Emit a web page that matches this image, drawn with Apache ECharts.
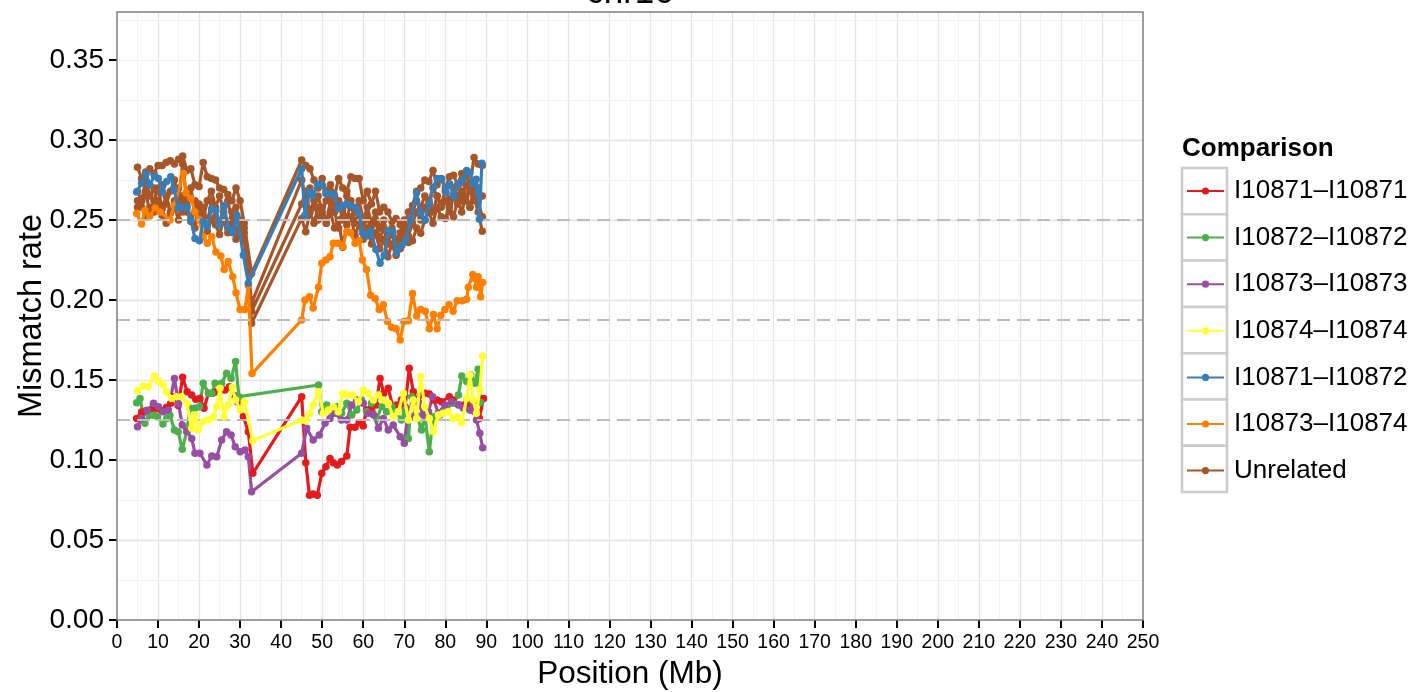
<!DOCTYPE html>
<html><head><meta charset="utf-8">
<script src="https://cdn.jsdelivr.net/npm/echarts@6/dist/echarts.min.js"></script>
<style>html,body{margin:0;padding:0;background:#fff}#c{width:1418px;height:692px}</style>
</head><body><div id="c"></div><script>
const FONT = 'Liberation Sans, Arial, Helvetica, sans-serif';
const seriesNames = ['I10871\u2013I10871','I10872\u2013I10872','I10873\u2013I10873','I10874\u2013I10874','I10871\u2013I10872','I10873\u2013I10874','Unrelated'];
const seriesColors = ['#E41A1C','#4DAF4A','#984EA3','#FFFF33','#377EB8','#FF7F00','#A65628'];
const xTicks = [0,10,20,30,40,50,60,70,80,90,100,110,120,130,140,150,160,170,180,190,200,210,220,230,240,250];
const yTicks = [0,0.05,0.10,0.15,0.20,0.25,0.30,0.35];
const refLines = [0.125,0.1875,0.25];

const red = [[4.8,0.126],[6.0,0.130],[7.2,0.131],[8.5,0.131],[9.7,0.132],[10.9,0.131],[12.1,0.133],[13.1,0.1355],[14.1,0.1395],[14.9,0.134],[16.0,0.1517],[17.1,0.1427],[18.2,0.1406],[19.2,0.1379],[20.2,0.1385],[21.2,0.1323],[22.3,0.1417],[23.3,0.1417],[24.3,0.1427],[25.3,0.1438],[26.3,0.1438],[27.4,0.1458],[28.4,0.1406],[29.3,0.1364],[30.8,0.127],[32.0,0.1177],[33.1,0.0917],[45.0,0.1396],[46.0,0.0983],[46.9,0.078],[47.8,0.0787],[48.8,0.078],[49.9,0.0917],[50.9,0.0958],[51.9,0.101],[52.7,0.0983],[53.7,0.0969],[54.7,0.099],[56.0,0.1025],[56.8,0.1204],[58.0,0.1204],[59.0,0.1233],[60.0,0.1213],[60.8,0.1313],[62.0,0.1323],[63.1,0.1344],[64.1,0.151],[65.0,0.1417],[66.1,0.1448],[67.2,0.1333],[68.1,0.1344],[69.3,0.1375],[70.2,0.1333],[71.2,0.1573],[72.2,0.1427],[73.0,0.1375],[74.0,0.1406],[75.0,0.1417],[76.1,0.1413],[77.1,0.1375],[78.0,0.1375],[79.1,0.1364],[81.0,0.1396],[81.9,0.1375],[83.6,0.1344],[85.2,0.1354],[86.2,0.1313],[87.2,0.1302],[88.3,0.126],[89.3,0.1385]];
const green = [[4.8,0.1358],[5.6,0.1385],[6.8,0.123],[7.9,0.128],[8.9,0.128],[9.9,0.1271],[11.2,0.1225],[12.1,0.126],[12.9,0.128],[14.0,0.1188],[14.9,0.1177],[15.9,0.1067],[17.0,0.1177],[17.8,0.1323],[19.0,0.1323],[20.1,0.1333],[21.0,0.148],[22.3,0.1417],[23.1,0.1417],[23.9,0.148],[25.5,0.148],[26.7,0.1542],[27.8,0.151],[28.9,0.1615],[29.7,0.1396],[49.1,0.1469],[49.9,0.1302],[51.1,0.1344],[52.3,0.1302],[53.5,0.1333],[54.7,0.1292],[56.0,0.1354],[57.2,0.1281],[58.4,0.1313],[59.6,0.1375],[60.8,0.1302],[62.0,0.1354],[63.3,0.126],[64.5,0.1333],[65.7,0.1302],[67.0,0.1333],[68.1,0.1302],[69.3,0.125],[70.2,0.1313],[71.0,0.1135],[71.8,0.1396],[73.0,0.1281],[74.2,0.1188],[75.0,0.1281],[76.1,0.1052],[77.1,0.1271],[78.7,0.1281],[80.3,0.1323],[81.9,0.1354],[83.2,0.1406],[84.0,0.1525],[85.2,0.149],[86.2,0.1531],[87.2,0.148],[88.0,0.1567],[88.6,0.136]];
const purple = [[5.0,0.1208],[6.0,0.126],[7.4,0.131],[8.9,0.1354],[10.1,0.1333],[11.3,0.1302],[12.5,0.1313],[14.0,0.151],[15.0,0.135],[15.9,0.1219],[17.0,0.118],[18.2,0.1135],[19.0,0.1042],[20.2,0.1042],[21.9,0.0969],[23.1,0.1025],[24.3,0.1021],[25.5,0.1125],[26.7,0.1177],[27.8,0.1156],[28.8,0.1083],[30.0,0.1052],[31.2,0.1063],[32.0,0.1021],[32.8,0.0802],[45.0,0.1042],[46.2,0.1198],[47.8,0.1125],[49.3,0.1156],[50.7,0.1229],[51.9,0.126],[53.1,0.1292],[54.7,0.125],[56.0,0.125],[57.2,0.1344],[58.4,0.1375],[60.0,0.1354],[61.2,0.1292],[62.5,0.1281],[63.7,0.1198],[64.9,0.126],[66.1,0.1188],[67.3,0.1219],[69.0,0.1146],[70.0,0.1104],[71.0,0.1313],[72.2,0.1271],[73.4,0.1364],[74.6,0.1281],[75.9,0.1302],[76.9,0.1396],[78.3,0.1292],[79.9,0.1344],[81.5,0.1364],[83.2,0.1344],[84.4,0.1323],[86.0,0.1313],[86.8,0.1354],[87.6,0.125],[88.4,0.1167],[89.1,0.1077]];
const yellow = [[5.0,0.1433],[6.4,0.1463],[7.6,0.1458],[9.1,0.1525],[10.2,0.149],[11.3,0.1469],[12.1,0.1427],[13.3,0.1385],[14.5,0.1396],[15.7,0.1396],[17.0,0.1354],[18.2,0.1198],[19.0,0.1281],[19.8,0.1188],[21.0,0.124],[22.3,0.125],[23.5,0.1271],[24.3,0.1333],[25.1,0.1448],[26.1,0.1271],[27.1,0.1344],[28.1,0.1454],[28.9,0.1375],[30.0,0.1313],[31.0,0.1364],[33.1,0.1121],[45.0,0.125],[46.0,0.1246],[47.0,0.1292],[47.8,0.1344],[49.1,0.1427],[50.3,0.1292],[51.5,0.1313],[52.7,0.1333],[53.9,0.1302],[55.0,0.1417],[56.1,0.1406],[57.4,0.1406],[58.8,0.1364],[60.0,0.1438],[61.2,0.1417],[62.5,0.1375],[63.7,0.1406],[64.9,0.1375],[66.1,0.1354],[67.3,0.1271],[68.5,0.1302],[69.8,0.1417],[71.0,0.125],[72.2,0.1375],[73.0,0.126],[74.0,0.1521],[75.0,0.1333],[76.1,0.126],[77.1,0.1177],[78.3,0.1281],[79.5,0.1292],[80.7,0.1302],[81.9,0.126],[82.9,0.1271],[84.0,0.1233],[85.2,0.1385],[86.0,0.1531],[86.8,0.1375],[87.6,0.1292],[88.4,0.1438],[89.1,0.165]];
const blue = [[4.8,0.2675],[6.0,0.273],[7.1,0.279],[8.0,0.272],[9.1,0.2775],[10.1,0.276],[11.1,0.2675],[12.1,0.274],[13.1,0.277],[13.9,0.269],[14.9,0.2575],[16.0,0.258],[17.1,0.258],[18.0,0.25],[19.0,0.2385],[20.1,0.237],[21.0,0.249],[22.0,0.246],[23.1,0.257],[24.1,0.256],[24.9,0.247],[26.1,0.259],[27.1,0.245],[28.2,0.242],[29.2,0.253],[30.8,0.228],[32.0,0.2105],[45.0,0.282],[45.8,0.253],[46.9,0.2675],[47.8,0.2655],[48.8,0.2725],[49.9,0.272],[50.9,0.2665],[51.9,0.2665],[52.9,0.266],[53.9,0.257],[55.0,0.259],[56.0,0.26],[56.9,0.259],[58.0,0.258],[59.0,0.254],[59.8,0.242],[60.8,0.24],[61.8,0.243],[63.1,0.2315],[64.1,0.223],[65.1,0.228],[66.1,0.243],[67.2,0.243],[68.1,0.2295],[69.4,0.234],[70.4,0.2375],[71.6,0.2505],[73.0,0.267],[74.0,0.2545],[75.1,0.25],[76.1,0.26],[77.1,0.2705],[78.0,0.276],[79.1,0.2755],[80.2,0.267],[81.1,0.2725],[82.1,0.2645],[83.2,0.272],[84.2,0.275],[85.2,0.281],[86.0,0.2795],[86.7,0.2725],[87.5,0.2755],[88.0,0.2675],[88.3,0.2505],[88.9,0.2855]];
const orange = [[4.8,0.254],[6.0,0.2475],[6.8,0.256],[8.0,0.2525],[9.3,0.2575],[10.5,0.255],[12.9,0.25],[13.9,0.259],[16.2,0.279],[16.8,0.267],[18.0,0.2635],[19.0,0.255],[20.1,0.25],[21.0,0.2395],[22.0,0.2355],[23.1,0.2395],[24.1,0.23],[25.3,0.2275],[26.1,0.219],[27.1,0.224],[28.2,0.2145],[29.0,0.2045],[30.0,0.194],[31.2,0.194],[32.0,0.209],[32.9,0.154],[45.0,0.1875],[45.8,0.20],[46.9,0.202],[47.8,0.195],[49.1,0.208],[49.9,0.223],[50.9,0.225],[51.9,0.227],[52.7,0.2355],[53.9,0.2355],[55.0,0.2335],[56.0,0.243],[56.9,0.242],[58.0,0.2355],[59.0,0.237],[59.8,0.225],[60.8,0.219],[61.8,0.203],[62.9,0.201],[63.9,0.194],[64.9,0.197],[65.9,0.1865],[66.9,0.183],[68.0,0.182],[69.0,0.175],[69.9,0.1865],[71.0,0.187],[72.0,0.204],[73.0,0.19],[74.0,0.194],[75.1,0.193],[76.1,0.182],[77.1,0.191],[78.0,0.182],[78.9,0.1905],[79.9,0.194],[80.9,0.197],[81.9,0.193],[82.9,0.1995],[84.2,0.1995],[85.2,0.2005],[85.6,0.208],[86.7,0.216],[87.2,0.2135],[87.6,0.208],[88.0,0.2145],[88.6,0.202],[89.1,0.211]];

// Unrelated pairs (4 lines): positions shared, values per line
const unrelLeftX = [5,6,7,8,9,10,11,12,13,14,15,16,17,18,19,20,21,22,23,24,25,26,27,28,29,30,31,32.8];
const unrelRightX = [45,46,47,48,49,50,51,52,53,54,55,56,57,58,59,60,61,62,63,64,65,66,67,68,69,70,71,72,73,74,75,76,77,78,79,80,81,82,83,84,85,86,87,88,89];
const unrel1L = [0.283,0.276,0.280,0.282,0.279,0.284,0.284,0.286,0.287,0.285,0.288,0.290,0.281,0.282,0.272,0.271,0.286,0.277,0.276,0.275,0.270,0.269,0.266,0.262,0.270,0.262,0.248,0.2165];
const unrel2L = [0.268,0.262,0.275,0.265,0.270,0.258,0.272,0.260,0.268,0.275,0.262,0.285,0.262,0.270,0.255,0.260,0.250,0.262,0.268,0.258,0.265,0.255,0.262,0.250,0.258,0.248,0.245,0.198];
const unrel3L = [0.262,0.258,0.268,0.254,0.262,0.270,0.257,0.265,0.254,0.262,0.270,0.255,0.260,0.249,0.262,0.252,0.258,0.248,0.262,0.252,0.247,0.258,0.245,0.255,0.242,0.250,0.242,0.193];
const unrel4L = [0.258,0.262,0.252,0.258,0.255,0.262,0.253,0.248,0.255,0.258,0.250,0.265,0.255,0.252,0.245,0.258,0.252,0.243,0.250,0.247,0.241,0.250,0.242,0.246,0.238,0.244,0.238,0.1855];
const unrel1R = [0.2875,0.284,0.282,0.275,0.270,0.276,0.268,0.272,0.265,0.276,0.270,0.268,0.277,0.276,0.276,0.262,0.268,0.260,0.268,0.255,0.258,0.255,0.249,0.251,0.247,0.245,0.255,0.259,0.268,0.270,0.275,0.274,0.281,0.272,0.276,0.270,0.277,0.278,0.272,0.279,0.278,0.272,0.289,0.285,0.284];
const unrel2R = [0.275,0.262,0.270,0.258,0.265,0.255,0.262,0.268,0.258,0.262,0.250,0.265,0.258,0.255,0.262,0.250,0.258,0.248,0.255,0.245,0.250,0.240,0.245,0.238,0.242,0.250,0.245,0.255,0.262,0.258,0.265,0.262,0.270,0.265,0.260,0.268,0.262,0.270,0.265,0.262,0.272,0.268,0.262,0.270,0.265];
const unrel3R = [0.260,0.268,0.255,0.262,0.250,0.258,0.248,0.262,0.255,0.245,0.258,0.250,0.262,0.248,0.255,0.245,0.252,0.242,0.250,0.238,0.245,0.235,0.242,0.232,0.238,0.245,0.240,0.248,0.255,0.250,0.258,0.262,0.255,0.265,0.258,0.262,0.255,0.265,0.260,0.268,0.262,0.258,0.265,0.255,0.243];
const unrel4R = [0.251,0.2427,0.255,0.248,0.258,0.252,0.2479,0.255,0.245,0.250,0.233,0.2469,0.252,0.240,0.248,0.238,0.245,0.235,0.242,0.232,0.238,0.227,0.235,0.228,0.232,0.240,0.236,0.237,0.245,0.2417,0.250,0.255,0.248,0.258,0.252,0.251,0.258,0.252,0.262,0.255,0.265,0.258,0.270,0.262,0.252];

function zip(xs, ys){ const out=[]; for(let i=0;i<Math.min(xs.length,ys.length);i++) out.push([xs[i],ys[i]]); return out; }
function unrel(L,R){ return zip(unrelLeftX,L).concat(zip(unrelRightX,R)); }

function mk(idx, data, z){
  const c = seriesColors[idx];
  return {type:'line', name:seriesNames[idx], data:data, symbol:'circle', symbolSize:7.5, showSymbol:true, showAllSymbol:true,
    lineStyle:{color:c, width:3.2}, itemStyle:{color:c}, emphasis:{disabled:true}, silent:true, z:z, animation:false, clip:true};
}

const series = [
  mk(6, unrel(unrel4L,unrel4R), 3), mk(6, unrel(unrel3L,unrel3R), 3), mk(6, unrel(unrel2L,unrel2R), 3), mk(6, unrel(unrel1L,unrel1R), 3),
  mk(5, orange, 4), mk(4, blue, 5),
  mk(0, red, 4), mk(1, green, 4), mk(2, purple, 4), mk(3, yellow, 5)
];
series.push({type:'line', data:[], silent:true, z:2, yAxisIndex:0,
  markLine:{silent:true, symbol:'none', precision:6, label:{show:false}, animation:false,
    lineStyle:{color:'#bdbdbd', width:2, type:[13,7]},
    data: refLines.map(v=>({yAxis:v}))}});

const legendBoxes = seriesNames.map((n,i)=>({type:'rect', z:1, shape:{x:1182, y:168+i*46.3, width:45, height:46.3}, style:{fill:'#fff', stroke:'#cccccc', lineWidth:2.5}}));

const chart = echarts.init(document.getElementById('c'), null, {renderer:'canvas'});
chart.setOption({
  animation:false,
  backgroundColor:'#fff',
  textStyle:{fontFamily:FONT},
  title:[
    {text:'chr16', left:630, textAlign:'center', top:-24, padding:0, textStyle:{fontFamily:FONT, fontSize:35, fontWeight:'normal', color:'#000'}},
    {text:'Comparison', left:1182, top:136, padding:0, textStyle:{fontFamily:FONT, fontSize:26, fontWeight:'bold', color:'#000'}}
  ],
  grid:{left:117, right:275, top:12, bottom:72, containLabel:false, outerBoundsMode:'none', show:true, borderColor:'#7f7f7f', borderWidth:1.5, backgroundColor:'transparent', z:6},
  legend:{orient:'vertical', left:1186, top:178, padding:0, itemWidth:37, itemHeight:9, itemGap:20.6, selectedMode:false, z:5,
    data:seriesNames, textStyle:{fontFamily:FONT, fontSize:26, color:'#000', lineHeight:26, padding:[0,0,0,5]}},
  graphic:legendBoxes,
  xAxis:{type:'value', min:0, max:250, interval:10,
    axisLine:{show:false},
    axisTick:{show:true, length:8, lineStyle:{color:'#000', width:2}},
    axisLabel:{fontFamily:FONT, fontSize:19.5, color:'#000', margin:13},
    splitLine:{show:true, showMinLine:false, showMaxLine:false, lineStyle:{color:'#e3e3e3', width:1.3}},
    minorTick:{show:false, splitNumber:2},
    minorSplitLine:{show:true, lineStyle:{color:'#f2f2f2', width:1}},
    name:'Position (Mb)', nameLocation:'middle', nameGap:38, nameMoveOverlap:false, nameTextStyle:{fontFamily:FONT, fontSize:31.5, color:'#000'}},
  yAxis:[
    {type:'value', min:0, max:0.38, interval:0.05, z:2,
      axisLine:{show:false},
      axisTick:{show:true, length:8, lineStyle:{color:'#000', width:2}, customValues:yTicks},
      axisLabel:{fontFamily:FONT, fontSize:28, color:'#000', margin:13, customValues:yTicks, formatter:v=>v.toFixed(2)},
      splitLine:{show:true, showMinLine:false, showMaxLine:false, lineStyle:{color:'#e3e3e3', width:1.3}},
      name:'Mismatch rate', nameLocation:'middle', nameGap:68, nameMoveOverlap:false, nameTextStyle:{fontFamily:FONT, fontSize:32.5, color:'#000'}},
    {type:'value', min:0, max:0.38, interval:0.025, z:1, position:'left',
      axisLine:{show:false}, axisTick:{show:false}, axisLabel:{show:false},
      splitLine:{show:true, showMinLine:false, showMaxLine:false, lineStyle:{color:'#f2f2f2', width:1}}}
  ],
  series:series
});
</script></body></html>
